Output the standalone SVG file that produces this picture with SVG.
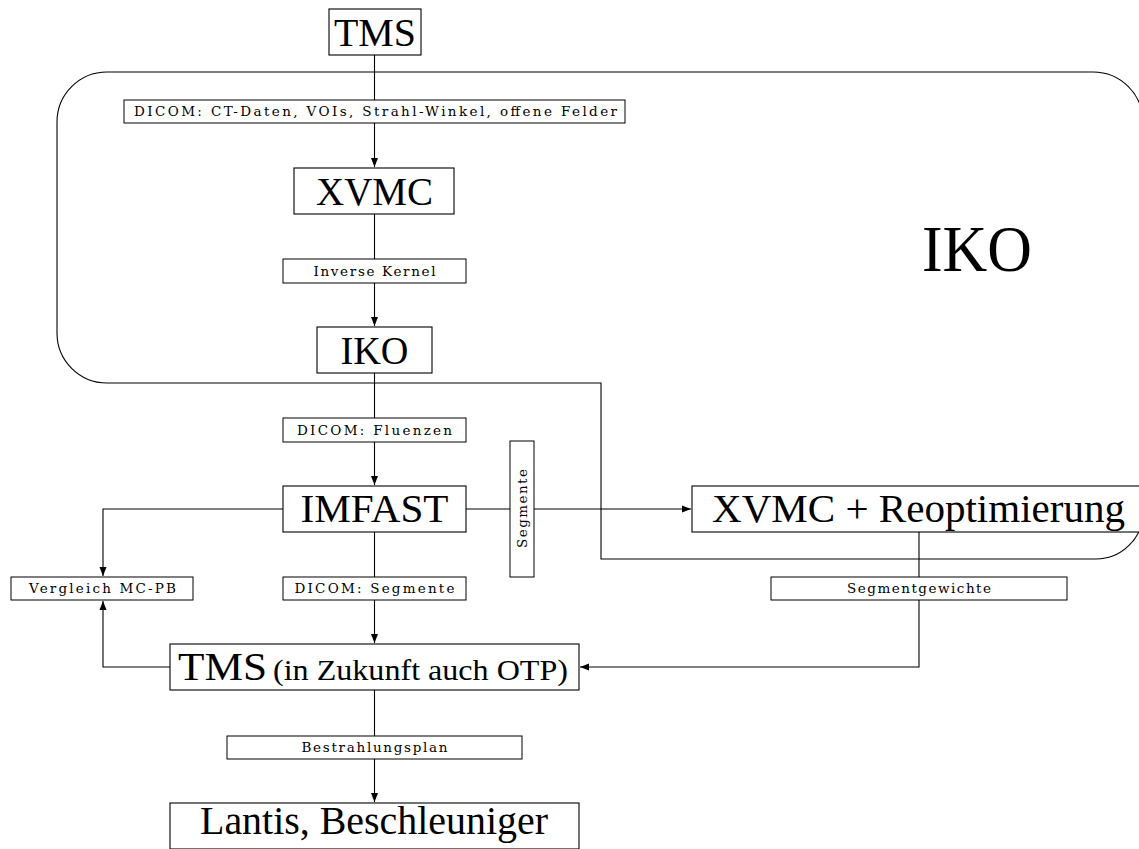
<svg xmlns="http://www.w3.org/2000/svg" width="1139" height="849" viewBox="0 0 1139 849">
<style>
.box{fill:#fff;stroke:#000;stroke-width:1.1}
.lbl{fill:#fff;stroke:#000;stroke-width:1}
.big{font-family:"Liberation Serif","Times New Roman",serif;font-size:40px;text-anchor:middle;fill:#000}
.sm{font-family:"DejaVu Serif","Liberation Serif",serif;font-size:13.5px;text-anchor:middle;fill:#000}
.ln{fill:none;stroke:#000;stroke-width:1.1}
</style>
<defs>
<marker id="ah" markerUnits="userSpaceOnUse" markerWidth="10" markerHeight="8" refX="9" refY="4" orient="auto">
<path d="M0,0.5 L9,4 L0,7.5 Z" fill="#000"/>
</marker>
</defs>
<path id="region" class="ln" d="M107 72 H1093 A50 50 0 0 1 1143 122 V512 A47 47 0 0 1 1096 559 H601 V383 H107 A50 50 0 0 1 57 333 V122 A50 50 0 0 1 107 72 Z"/>
<text class="big" x="977" y="271" style="font-size:66px" textLength="110" lengthAdjust="spacingAndGlyphs">IKO</text>
<g id="connectors">
<path class="ln" d="M374.5 55 V167" marker-end="url(#ah)"/>
<path class="ln" d="M374.5 214 V326" marker-end="url(#ah)"/>
<path class="ln" d="M374.5 373 V485" marker-end="url(#ah)"/>
<path class="ln" d="M283 509 H103 V576" marker-end="url(#ah)"/>
<path class="ln" d="M466 509 H691" marker-end="url(#ah)"/>
<path class="ln" d="M374.5 532 V643" marker-end="url(#ah)"/>
<path class="ln" d="M919 532 V667 H580" marker-end="url(#ah)"/>
<path class="ln" d="M170 667 H103 V601" marker-end="url(#ah)"/>
<path class="ln" d="M374.5 690 V802" marker-end="url(#ah)"/>
</g>
<g id="lbl-dicom-ct"><rect class="lbl" x="124" y="100" width="501" height="23"/><text class="sm" x="375.5" y="116" textLength="483" lengthAdjust="spacing">DICOM: CT-Daten, VOIs, Strahl-Winkel, offene Felder</text></g>
<g id="lbl-inverse"><rect class="lbl" x="283" y="259" width="183" height="24"/><text class="sm" x="374.5" y="276" textLength="122" lengthAdjust="spacing">Inverse Kernel</text></g>
<g id="lbl-fluenzen"><rect class="lbl" x="283" y="418" width="183" height="24"/><text class="sm" x="374.5" y="435" textLength="155" lengthAdjust="spacing">DICOM: Fluenzen</text></g>
<g id="lbl-segmente-v"><rect class="lbl" x="510" y="441" width="24" height="136"/><text class="sm" transform="translate(522,508.5) rotate(-90)" x="0" y="4.5" textLength="79" lengthAdjust="spacing">Segmente</text></g>
<g id="lbl-vergleich"><rect class="lbl" x="11" y="577" width="182" height="23"/><text class="sm" x="102.5" y="593" textLength="147" lengthAdjust="spacing">Vergleich MC-PB</text></g>
<g id="lbl-dicom-seg"><rect class="lbl" x="283" y="577" width="183" height="23"/><text class="sm" x="374.5" y="593" textLength="160" lengthAdjust="spacing">DICOM: Segmente</text></g>
<g id="lbl-gewichte"><rect class="lbl" x="771" y="577" width="296" height="23"/><text class="sm" x="919" y="593" textLength="144" lengthAdjust="spacing">Segmentgewichte</text></g>
<g id="lbl-plan"><rect class="lbl" x="227" y="736" width="295" height="23"/><text class="sm" x="374.5" y="752" textLength="146" lengthAdjust="spacing">Bestrahlungsplan</text></g>
<g id="tms"><rect class="box" x="329" y="9" width="92" height="46"/><text class="big" x="375" y="46" textLength="82" lengthAdjust="spacingAndGlyphs">TMS</text></g>
<g id="xvmc"><rect class="box" x="294" y="168" width="160" height="46"/><text class="big" x="374.5" y="205" textLength="117" lengthAdjust="spacingAndGlyphs">XVMC</text></g>
<g id="iko"><rect class="box" x="317" y="327" width="115" height="46"/><text class="big" x="374.5" y="364" textLength="68" lengthAdjust="spacingAndGlyphs">IKO</text></g>
<g id="imfast"><rect class="box" x="283" y="486" width="183" height="46"/><text class="big" x="374.5" y="522" textLength="148" lengthAdjust="spacingAndGlyphs">IMFAST</text></g>
<g id="xvmc-reopt"><rect class="box" x="692" y="486" width="452" height="46"/><text class="big" x="918.5" y="522" textLength="413" lengthAdjust="spacingAndGlyphs">XVMC + Reoptimierung</text></g>
<g id="tms-otp"><rect class="box" x="170" y="644" width="409" height="46"/><text class="big" x="222.5" y="680" textLength="89" lengthAdjust="spacingAndGlyphs">TMS</text><text class="big" x="420.5" y="680" style="font-size:30px" textLength="295" lengthAdjust="spacingAndGlyphs">(in Zukunft auch OTP)</text></g>
<g id="lantis"><rect class="box" x="170" y="803" width="409" height="46"/><text class="big" x="374" y="834" textLength="348" lengthAdjust="spacingAndGlyphs">Lantis, Beschleuniger</text></g>
</svg>
